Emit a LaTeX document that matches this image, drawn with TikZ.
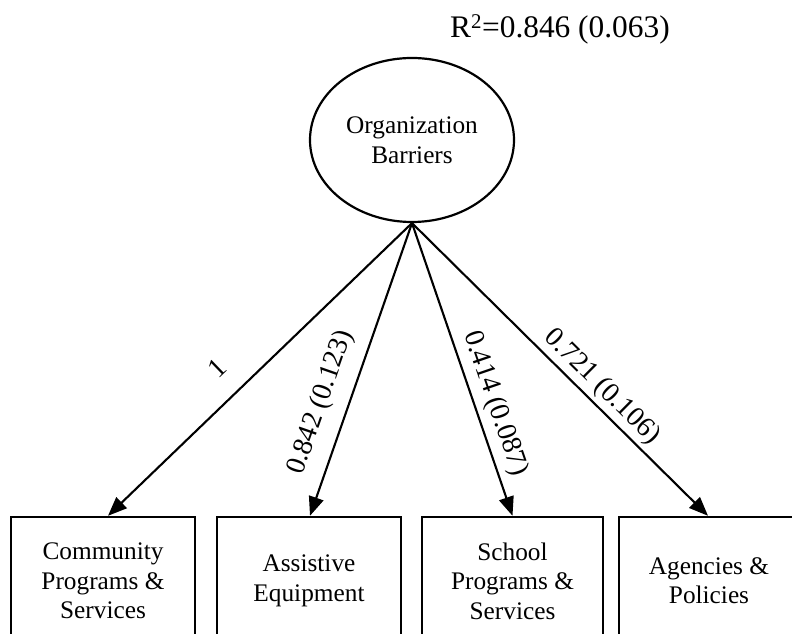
\documentclass[tikz,border=0pt]{standalone}
\usepackage{fontspec}
\setmainfont{Liberation Serif}
\usetikzlibrary{arrows.meta,shapes.geometric}
\begin{document}
\begin{tikzpicture}[x=1bp,y=1bp,
  latent/.style={draw, line width=2.2bp, ellipse, minimum width=204bp, minimum height=164bp,
    inner sep=0pt, align=center, font=\fontsize{25.4}{30}\selectfont},
  observed/.style={draw, line width=2.4bp, rectangle, minimum height=128bp, inner sep=0pt,
    align=center, font=\fontsize{25.4}{29.5}\selectfont},
  loading/.style={line width=2.1bp, -{Triangle[length=19bp,width=15bp]}},
  coef/.style={sloped, anchor=center, font=\fontsize{28}{30}\selectfont}]
  \clip (0,0) rectangle (792,634);
  \fill[white] (0,0) rectangle (792,634);

  % latent factor
  \node[latent] (org) at (412,494) {Organization\\Barriers};
  \node[font=\fontsize{31.5}{33}\selectfont, anchor=base] (r2) at (560,596) {R\textsuperscript{\fontsize{21}{21}\selectfont 2}=0.846 (0.063)};

  % indicators
  \node[observed, minimum width=184bp] (b1) at (103,53) {Community\\Programs \&\\Services};
  \node[observed, minimum width=184bp] (b2) at (309,53) {Assistive\\Equipment};
  \node[observed, minimum width=181bp] (b3) at (512.5,53) {School\\Programs \&\\Services};
  \node[observed, minimum width=180bp] (b4) at (709,53) {Agencies \&\\Policies};

  % factor loadings
  \draw[loading] (org.south) -- ([xshift=5bp]b1.north)
    node[coef, pos=0.57, yshift=31bp] {1};
  \draw[loading] (org.south) -- ([xshift=1bp]b2.north)
    node[coef, pos=0.643, yshift=27bp] {0.842 (0.123)};
  \draw[loading] (org.south) -- (b3.north)
    node[coef, pos=0.638, yshift=20bp] {0.414 (0.087)};
  \draw[loading] (org.south) -- ([xshift=-1bp]b4.north)
    node[coef, pos=0.601, yshift=17bp] {0.721 (0.106)};
\end{tikzpicture}
\end{document}
